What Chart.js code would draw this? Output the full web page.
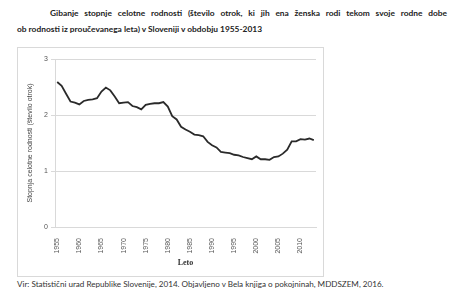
<!DOCTYPE html>
<html>
<head>
<meta charset="utf-8">
<script src="https://cdn.jsdelivr.net/npm/chart.js@4"></script>
<style>
  html, body { margin:0; padding:0; background:#fff; }
  body { width:453px; height:292px; position:relative; overflow:hidden; font-family:Lato, "Liberation Sans", sans-serif; }
  .t1 { position:absolute; left:50px; top:8px; width:397px; font-size:8.4px; font-weight:700; color:#222; text-align:justify; text-align-last:justify; white-space:nowrap; }
  .t2 { position:absolute; left:17px; top:24px; font-size:8.4px; font-weight:700; color:#222; white-space:nowrap; }
  .box { position:absolute; left:17px; top:47px; width:305px; height:228px; border:1px solid #d9d9d9; }
  .src { position:absolute; left:17px; top:279px; font-size:8.1px; color:#333; white-space:nowrap; }
</style>
</head>
<body>
<div class="t1">Gibanje stopnje celotne rodnosti (število otrok, ki jih ena ženska rodi tekom svoje rodne dobe</div>
<div class="t2">ob rodnosti iz proučevanega leta) v Sloveniji v obdobju 1955-2013</div>
<div class="box"><canvas id="chart" width="305" height="228"></canvas></div>
<div class="src">Vir: Statistični urad Republike Slovenije, 2014. Objavljeno v Bela knjiga o pokojninah, MDDSZEM, 2016.</div>
<script>
const years = [];
for (let y = 1955; y <= 2013; y++) years.push(String(y));

const rodnost = [
  2.59, 2.52, 2.38, 2.24, 2.22, 2.19, 2.25, 2.27, 2.28, 2.30,
  2.42, 2.49, 2.44, 2.33, 2.21, 2.22, 2.23, 2.16, 2.14, 2.10,
  2.18, 2.20, 2.21, 2.21, 2.23, 2.15, 1.98, 1.92, 1.79, 1.74,
  1.70, 1.65, 1.64, 1.62, 1.52, 1.46, 1.42, 1.34, 1.33, 1.32,
  1.29, 1.28, 1.25, 1.23, 1.21, 1.26, 1.21, 1.21, 1.20, 1.25,
  1.26, 1.31, 1.38, 1.53, 1.53, 1.57, 1.56, 1.58, 1.55
];

const yMin = 0, yMax = 3, yStep = 1;

const ctx = document.getElementById("chart").getContext("2d");
new Chart(ctx, {
  type: "line",
  data: {
    labels: years,
    datasets: [{
      data: rodnost,
      borderColor: "#2a2a2a",
      borderWidth: 1.8,
      pointRadius: 0,
      tension: 0,
      fill: false
    }]
  },
  options: {
    responsive: false,
    animation: false,
    layout: { padding: { left: 8, right: 7, top: 11, bottom: 8 } },
    plugins: { legend: { display: false }, tooltip: { enabled: false } },
    scales: {
      x: {
        type: "category",
        offset: true,
        grid: { display: false },
        border: { display: true, color: "#d9d9d9" },
        ticks: {
          autoSkip: false,
          maxRotation: 90,
          minRotation: 90,
          padding: 3,
          color: "#555",
          font: { family: "Liberation Sans", size: 7 },
          callback: function(v, i) { const l = years[i]; return (+l) % 5 === 0 ? l : null; }
        },
        title: { display: true, text: "Leto", color: "#333", font: { family: "Liberation Serif", size: 8, weight: "bold" }, padding: { top: 2, bottom: 0 } },
        afterFit: s => { s.height = 41; }
      },
      y: {
        min: yMin,
        max: yMax,
        grid: { color: "#d9d9d9", tickLength: 4 },
        border: { display: true, color: "#d9d9d9" },
        ticks: { stepSize: yStep, color: "#555", padding: 3, font: { family: "Liberation Sans", size: 7 } },
        title: { display: true, text: "Stopnja celotne rodnosti (število otrok)", color: "#444", font: { family: "Liberation Sans", size: 7 }, padding: { top: 0, bottom: 6 } },
        afterFit: s => { s.width = 29; }
      }
    }
  }
});
</script>
</body>
</html>
